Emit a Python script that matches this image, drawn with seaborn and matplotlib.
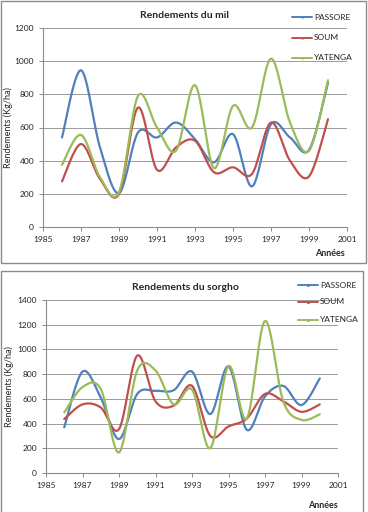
import numpy as np
import pandas as pd
import seaborn as sns
import matplotlib.pyplot as plt
from matplotlib.lines import Line2D
from matplotlib.patches import Rectangle

# Données
annees = [1986, 1987, 1988, 1989, 1990, 1991, 1992, 1993, 1994, 1995, 1996, 1997, 1998, 1999, 2000]
regions = ['PASSORE', 'SOUM', 'YATENGA']

mil_passore = [540, 945, 480, 205, 570, 540, 630, 530, 390, 560, 245, 620, 540, 465, 870]
mil_soum = [275, 500, 290, 200, 720, 345, 480, 520, 330, 360, 320, 630, 400, 305, 650]
mil_yatenga = [375, 555, 300, 210, 790, 600, 460, 855, 355, 730, 600, 1015, 630, 460, 885]

sorgho_passore = [370, 820, 610, 275, 640, 665, 670, 820, 477, 862, 350, 620, 705, 550, 765]
sorgho_soum = [437, 555, 530, 355, 950, 580, 545, 705, 300, 377, 440, 640, 580, 495, 555]
sorgho_yatenga = [490, 695, 680, 167, 830, 830, 555, 675, 200, 865, 440, 1230, 580, 430, 475]

couleurs = ['#4F81BD', '#C0504D', '#9BBB59']

sns.set_style('white')
plt.rcParams['font.family'] = ['Lato', 'DejaVu Sans']


def lisser(x, y, n=30):
    # courbe lissée type Excel (Bezier Catmull-Rom entre les points)
    x = np.asarray(x, float)
    y = np.asarray(y, float)
    px = np.concatenate([[x[0]], x, [x[-1]]])
    py = np.concatenate([[y[0]], y, [y[-1]]])
    t = np.linspace(0, 1, n)
    xs, ys = [], []
    for i in range(1, len(px) - 2):
        b0 = np.array([px[i], py[i]])
        b3 = np.array([px[i + 1], py[i + 1]])
        b1 = b0 + (np.array([px[i + 1], py[i + 1]]) - np.array([px[i - 1], py[i - 1]])) / 6
        b2 = b3 - (np.array([px[i + 2], py[i + 2]]) - np.array([px[i], py[i]])) / 6
        pts = ((1 - t) ** 3)[:, None] * b0 + (3 * (1 - t) ** 2 * t)[:, None] * b1 \
            + (3 * (1 - t) * t ** 2)[:, None] * b2 + (t ** 3)[:, None] * b3
        xs.extend(pts[:, 0])
        ys.extend(pts[:, 1])
    return np.array(xs), np.array(ys)


def tracer(ax, series, titre, ymax, marqueur, leg_x, leg_ys, titre_y, annee_x, annee_y, ylab_x):
    for nom, vals, c in zip(regions, series, couleurs):
        xs, ys = lisser(annees, vals)
        df = pd.DataFrame({'x': xs, 'y': ys})
        sns.lineplot(data=df, x='x', y='y', ax=ax, color=c, linewidth=1.6, sort=False, estimator=None)
    ax.set_xlim(1985, 2001)
    ax.set_ylim(0, ymax)
    ax.set_xticks(range(1985, 2002, 2))
    ax.set_yticks(range(0, ymax + 1, 200))
    ax.yaxis.grid(True, color='#9a9a9a', linewidth=0.7)
    ax.xaxis.grid(False)
    for s in ['top', 'right']:
        ax.spines[s].set_visible(False)
    for s in ['left', 'bottom']:
        ax.spines[s].set_color('#8a8a8a')
        ax.spines[s].set_linewidth(0.8)
    ax.tick_params(axis='both', labelsize=6, colors='#8a8a8a', labelcolor='#222222',
                   length=3, width=0.7, direction='out', left=True, bottom=True)
    ax.set_xlabel('')
    ax.set_ylabel('Rendements (Kg/ha)', fontsize=6.5)
    ax.yaxis.set_label_coords(ylab_x, 0.5)
    fig.text(185 / 368, 1 - titre_y / 512, titre, ha='center', va='center',
             fontsize=7.5, fontweight='bold')
    fig.text(annee_x / 368, 1 - annee_y / 512, 'Années',
             ha='center', va='center', fontsize=6.5, fontweight='bold')
    for nom, c, yy in zip(regions, couleurs, leg_ys):
        fy = 1 - yy / 512
        fig.lines.append(Line2D([leg_x / 368, (leg_x + 20) / 368], [fy, fy], color=c,
                                linewidth=1.4, transform=fig.transFigure))
        fig.lines.append(Line2D([(leg_x + 10) / 368], [fy], color=c, marker=marqueur,
                                markersize=1.4, markeredgewidth=0.6, transform=fig.transFigure))
        fig.text((leg_x + 22) / 368, fy, nom, ha='left', va='center', fontsize=6)


fig = plt.figure(figsize=(3.68, 5.12), dpi=100)

# cadres des deux graphiques
fig.patches.append(Rectangle((0.5 / 368, 1 - 263 / 512), 365 / 368, 262.5 / 512, fill=False,
                             edgecolor='#8c8c8c', linewidth=1.0, transform=fig.transFigure))
fig.patches.append(Rectangle((1 / 368, -0.01), 362 / 368, 1 - 271 / 512 + 0.01, fill=False,
                             edgecolor='#8c8c8c', linewidth=1.0, transform=fig.transFigure))

ax1 = fig.add_axes([43 / 368, 1 - 227 / 512, (347 - 43) / 368, (227 - 28) / 512])
tracer(ax1, [mil_passore, mil_soum, mil_yatenga], 'Rendements du mil', 1200, 'x',
       292, [17, 38, 58], 16, 330, 254, (13 - 43) / 304)

ax2 = fig.add_axes([46 / 368, 1 - 473 / 512, (338 - 46) / 368, (473 - 300) / 512])
tracer(ax2, [sorgho_passore, sorgho_soum, sorgho_yatenga], 'Rendements du sorgho', 1400, 's',
       298, [285, 302, 320], 287, 323, 505, (14 - 46) / 292)

fig.savefig('out.png', dpi=100)
